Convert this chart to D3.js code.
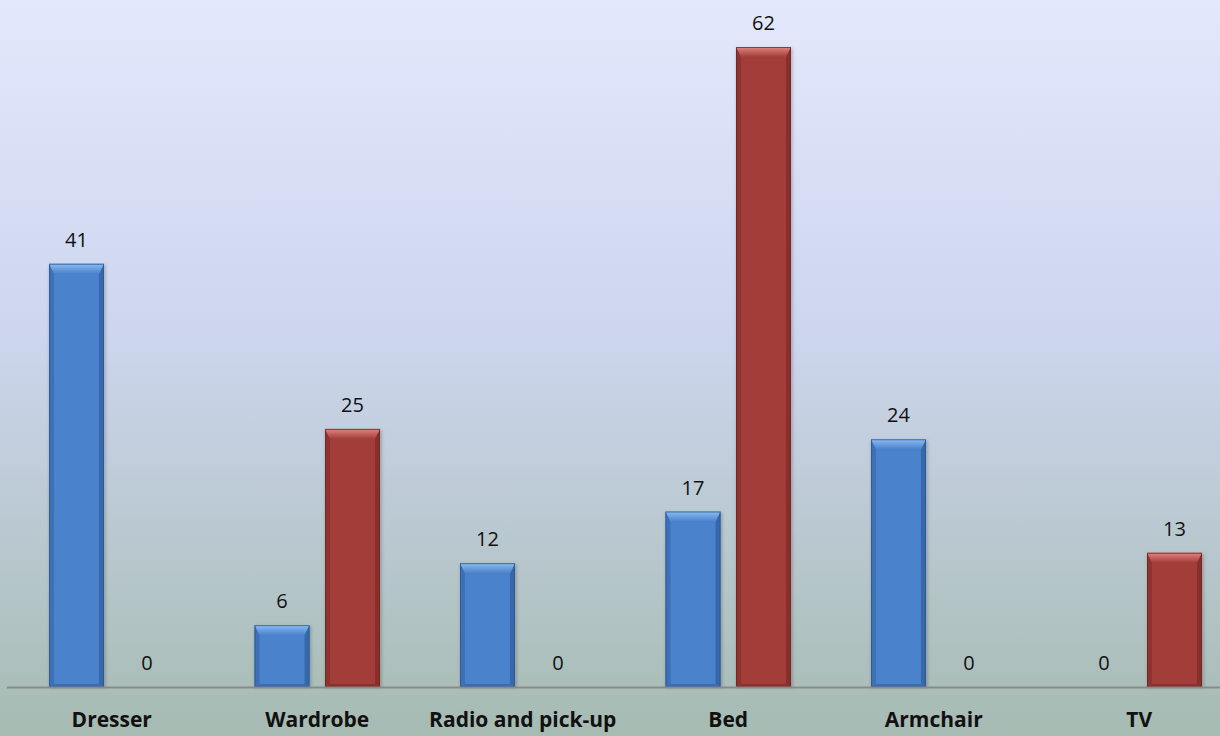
<!DOCTYPE html>
<html>
<head>
<meta charset="utf-8">
<script src="https://cdn.jsdelivr.net/npm/d3@7"></script>
<style>
  html, body { margin: 0; padding: 0; overflow: hidden; }
  svg { display: block; }
</style>
</head>
<body>
<svg id="chart" width="1220" height="736"></svg>
<script>
// Item counts per furniture category, two series
const categories = ["Dresser", "Wardrobe", "Radio and pick-up", "Bed", "Armchair", "TV"];
const seriesA = [41, 6, 12, 17, 24, 0];
const seriesB = [0, 25, 0, 62, 0, 13];
const seriesKeys = ["a", "b"];

const W = 1220, H = 736;
const baseY = 687;
const svg = d3.select("#chart");
const defs = svg.append("defs");

// background wash
const bg = defs.append("linearGradient").attr("id", "bg").attr("x1", 0).attr("y1", 0).attr("x2", 0).attr("y2", 1);
bg.append("stop").attr("offset", "0%").attr("stop-color", "#e3e8fc");
bg.append("stop").attr("offset", "45%").attr("stop-color", "#cdd6ee");
bg.append("stop").attr("offset", "100%").attr("stop-color", "#a6bbb2");
svg.append("rect").attr("width", W).attr("height", H).attr("fill", "url(#bg)");

const palette = {
  a: { body: "#4a82cc", light: "#8cbcf2", dark: "#2f5d9c", edge: "#2c5590" },
  b: { body: "#a33d39", light: "#de8580", dark: "#7c2a27", edge: "#6e2522" }
};

// vertical gradients for the top bevel faces
seriesKeys.forEach(k => {
  const gr = defs.append("linearGradient").attr("id", "top-" + k)
    .attr("x1", 0).attr("y1", 0).attr("x2", 0).attr("y2", 1);
  gr.append("stop").attr("offset", "0%").attr("stop-color", palette[k].light);
  gr.append("stop").attr("offset", "100%").attr("stop-color", palette[k].body);
});

const blur = defs.append("filter").attr("id", "soft").attr("x", "-20%").attr("y", "-20%").attr("width", "140%").attr("height", "140%");
blur.append("feGaussianBlur").attr("stdDeviation", 1.5);

const rows = categories.map((c, i) => ({ cat: c, a: seriesA[i], b: seriesB[i] }));

const x0 = d3.scaleBand().domain(categories).range([9, 1242]);
const x1 = d3.scaleBand().domain(seriesKeys).range([40, x0.bandwidth() - 40]).paddingInner(0.22);
const y = d3.scaleLinear().domain([0, 62]).range([baseY, 47]);

const groups = svg.append("g").selectAll("g").data(rows).join("g")
  .attr("transform", d => `translate(${x0(d.cat)},0)`);

const bars = groups.selectAll("g.bar")
  .data(d => seriesKeys.map(k => ({ key: k, value: d[k] })))
  .join("g").attr("class", "bar");

bars.each(function(d) {
  const g = d3.select(this);
  const bx = x1(d.key), bw = x1.bandwidth();
  const top = y(d.value), bot = y(0), h = bot - top;
  const p = palette[d.key];
  if (h > 0) {
    const bevT = Math.min(10, h / 2), bevS = 5, bevB = Math.min(3, h / 4);
    // soft shadow
    g.append("rect").attr("x", bx).attr("y", top + 1).attr("width", bw + 2).attr("height", h)
      .attr("fill", "rgba(0,0,0,0.18)").attr("filter", "url(#soft)");
    // body
    g.append("rect").attr("x", bx).attr("y", top).attr("width", bw).attr("height", h)
      .attr("fill", p.body);
    // left bevel
    g.append("path").attr("d", `M${bx},${top} L${bx + bevS},${top + bevT} L${bx + bevS},${bot - bevB} L${bx},${bot} Z`)
      .attr("fill", p.dark).attr("opacity", 0.5);
    // right bevel
    g.append("path").attr("d", `M${bx + bw},${top} L${bx + bw - bevS},${top + bevT} L${bx + bw - bevS},${bot - bevB} L${bx + bw},${bot} Z`)
      .attr("fill", p.dark).attr("opacity", 0.7);
    // bottom bevel
    g.append("path").attr("d", `M${bx},${bot} L${bx + bevS},${bot - bevB} L${bx + bw - bevS},${bot - bevB} L${bx + bw},${bot} Z`)
      .attr("fill", p.dark).attr("opacity", 0.6);
    // top bevel
    g.append("path").attr("d", `M${bx},${top} L${bx + bw},${top} L${bx + bw - bevS},${top + bevT} L${bx + bevS},${top + bevT} Z`)
      .attr("fill", `url(#top-${d.key})`);
    // outline
    g.append("rect").attr("x", bx + 0.5).attr("y", top + 0.5).attr("width", bw - 1).attr("height", h - 1)
      .attr("fill", "none").attr("stroke", p.edge).attr("stroke-width", 1).attr("opacity", 0.75);
  }
  g.append("text")
    .attr("x", bx + bw / 2).attr("y", top - 17)
    .attr("text-anchor", "middle")
    .attr("font-family", "'Open Sans', sans-serif").attr("font-size", 20)
    .attr("fill", "#111")
    .text(d.value);
});

// category axis
const xAxis = d3.axisBottom(x0).tickSize(0).tickPadding(0);
const ax = svg.append("g").attr("transform", `translate(0,${baseY})`).call(xAxis);
ax.select(".domain").attr("d", `M7,0.5H${W}`).attr("stroke", "#8a8a8a").attr("stroke-width", 2);
ax.selectAll(".tick text")
  .attr("y", 40).attr("dy", 0)
  .attr("font-family", "'Open Sans', sans-serif").attr("font-size", 21).attr("font-weight", "bold")
  .attr("fill", "#111");
</script>
</body>
</html>
